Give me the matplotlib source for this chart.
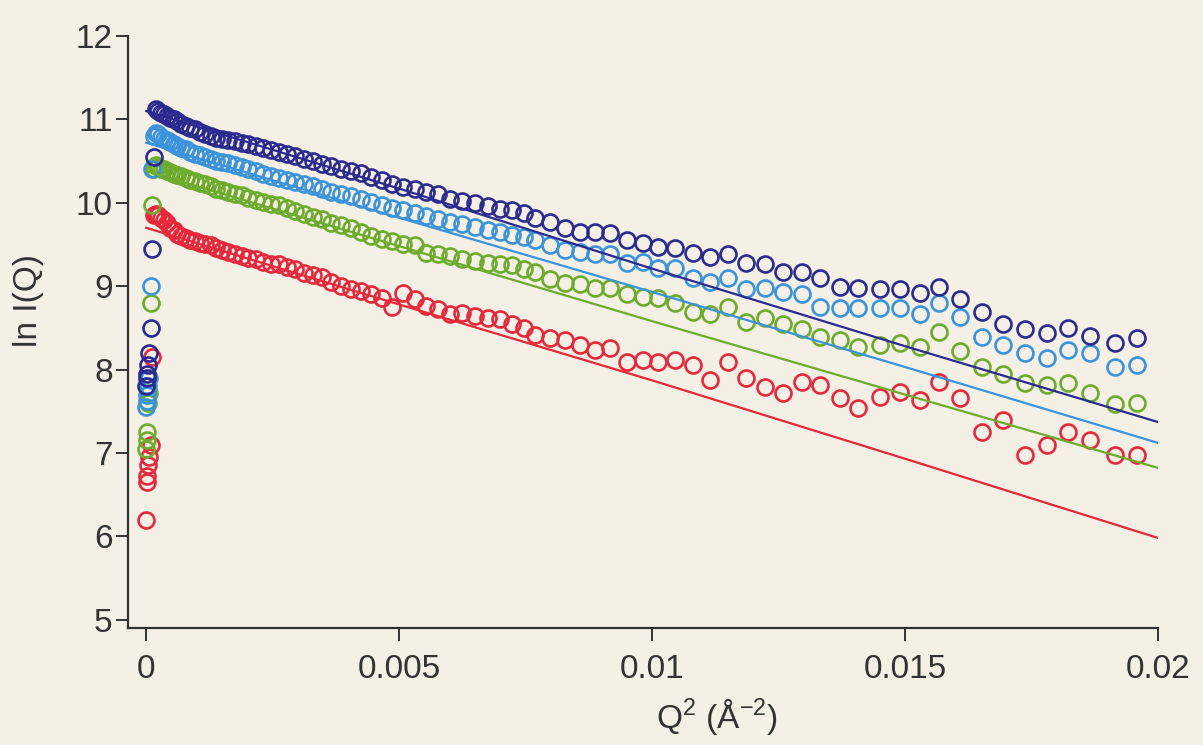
import numpy as np
import matplotlib
matplotlib.use("Agg")
import matplotlib.pyplot as plt

# ── Data ─────────────────────────────────────────────────────────────────────
q2 = [0.0000024, 0.0000096, 0.0000216, 0.0000384, 0.0000601, 0.0000865,
      0.0001177, 0.0001538,
      0.0001946, 0.0002403, 0.0002907, 0.0003460, 0.0004060, 0.0004709,
      0.0005406, 0.0006150, 0.0006943, 0.0007784, 0.0008673, 0.0009610,
      0.0010595, 0.0011628, 0.0012709, 0.0013838, 0.0015016, 0.0016241,
      0.0017514, 0.0018836, 0.0020205, 0.0021623, 0.0023088, 0.0024602,
      0.0026163, 0.0027773, 0.0029431, 0.0031136, 0.0032890, 0.0034692,
      0.0036542, 0.0038440, 0.0040386, 0.0042380, 0.0044422, 0.0046512,
      0.0048651, 0.0050837, 0.0053071, 0.0055354, 0.0057684, 0.0060063,
      0.0062489, 0.0064964, 0.0067486,
      0.006996, 0.007233, 0.007470,
      0.007688, 0.007984, 0.008281, 0.008577, 0.008874, 0.009170, 0.009506,
      0.009822, 0.010119, 0.010455, 0.010810, 0.011146, 0.011502, 0.011858,
      0.012233, 0.012589, 0.012964, 0.013320, 0.013715, 0.014071, 0.014506,
      0.014901, 0.015296, 0.015672, 0.016087, 0.016522, 0.016937, 0.017372,
      0.017806, 0.018221, 0.018656, 0.019150, 0.019585]

ln_navy = [7.8, 7.9, 7.95, 8.05, 8.2, 8.5, 9.45, 10.55,
           11.12, 11.1, 11.08, 11.07, 11.04, 11.02, 11.0, 10.98, 10.95, 10.92,
           10.9, 10.88, 10.85, 10.83, 10.8, 10.78, 10.77, 10.75, 10.74, 10.72,
           10.7, 10.68, 10.66, 10.63, 10.61, 10.59, 10.56, 10.53, 10.5, 10.47,
           10.44, 10.41, 10.38, 10.36, 10.31, 10.27, 10.23, 10.19, 10.16, 10.13,
           10.1, 10.05, 10.02, 10.0, 9.96,
           9.92, 9.91, 9.88,
           9.82, 9.77, 9.70, 9.65, 9.65, 9.64, 9.55, 9.52, 9.47, 9.46, 9.40,
           9.35, 9.38, 9.28, 9.26, 9.17, 9.17, 9.10, 8.99, 8.98, 8.96, 8.97,
           8.92, 8.99, 8.84, 8.69, 8.54, 8.48, 8.44, 8.5, 8.4, 8.32, 8.38]

ln_sky = [7.55, 7.62, 7.7, 7.8, 7.9, 9.0, 10.4, 10.8,
          10.84, 10.82, 10.79, 10.77, 10.75, 10.73, 10.71, 10.68, 10.66, 10.64,
          10.61, 10.59, 10.57, 10.55, 10.52, 10.5, 10.49, 10.48, 10.45, 10.43,
          10.4, 10.38, 10.35, 10.32, 10.3, 10.27, 10.25, 10.23, 10.2, 10.16,
          10.13, 10.11, 10.08, 10.05, 10.01, 9.97, 9.94, 9.91, 9.88, 9.84,
          9.8, 9.77, 9.74, 9.71, 9.67,
          9.65, 9.61, 9.59,
          9.55, 9.49, 9.43, 9.41, 9.38, 9.38, 9.28, 9.29, 9.22, 9.22, 9.10,
          9.05, 9.10, 8.97, 8.98, 8.93, 8.9, 8.75, 8.74, 8.74, 8.74, 8.74,
          8.66, 8.8, 8.63, 8.39, 8.3, 8.2, 8.14, 8.24, 8.2, 8.03, 8.06]

ln_green = [7.05, 7.15, 7.25, 7.6, 7.72, 8.8, 9.97, 10.4,
            10.45, 10.43, 10.41, 10.4, 10.38, 10.37, 10.35, 10.33, 10.32, 10.3,
            10.27, 10.26, 10.24, 10.22, 10.2, 10.17, 10.15, 10.13, 10.1, 10.09,
            10.06, 10.03, 10.01, 9.99, 9.97, 9.94, 9.9, 9.86, 9.83, 9.8,
            9.76, 9.73, 9.7, 9.65, 9.6, 9.57, 9.54, 9.51, 9.49, 9.4,
            9.38, 9.36, 9.33, 9.3, 9.28,
            9.27, 9.25, 9.2,
            9.17, 9.08, 9.04, 9.02, 8.98, 8.98, 8.9, 8.87, 8.86, 8.8, 8.69,
            8.66, 8.75, 8.57, 8.62, 8.54, 8.48, 8.39, 8.36, 8.27, 8.3, 8.32,
            8.27, 8.45, 8.22, 8.03, 7.95, 7.84, 7.82, 7.84, 7.72, 7.59, 7.6]

ln_red = [6.2, 6.65, 6.72, 6.85, 6.95, 7.1, 8.15, 9.85,
          9.87, 9.85, 9.82, 9.79, 9.76, 9.7, 9.67, 9.63, 9.6, 9.58,
          9.55, 9.54, 9.52, 9.5, 9.49, 9.46, 9.43, 9.41, 9.38, 9.36,
          9.34, 9.32, 9.29, 9.27, 9.26, 9.23, 9.2, 9.16, 9.13, 9.11,
          9.05, 9.0, 8.97, 8.94, 8.91, 8.86, 8.75, 8.92, 8.85, 8.76,
          8.73, 8.67, 8.68, 8.64, 8.62,
          8.61, 8.55, 8.5,
          8.42, 8.38, 8.36, 8.3, 8.24, 8.26, 8.09, 8.12, 8.09, 8.12, 8.06,
          7.88, 8.09, 7.90, 7.79, 7.72, 7.85, 7.82, 7.66, 7.54, 7.67, 7.73,
          7.64, 7.85, 7.66, 7.25, 7.4, 6.98, 7.1, 7.25, 7.15, 6.97, 6.97]

# Guinier fit lines
fit_q2 = [0.0, 0.005, 0.01, 0.015, 0.02]
fit_navy = [11.1, 10.17, 9.21, 8.28, 7.37]
fit_sky = [10.72, 9.82, 8.93, 8.03, 7.12]
fit_green = [10.38, 9.48, 8.58, 7.70, 6.82]
fit_red = [9.70, 8.78, 7.87, 6.93, 5.98]

xticks = [0, 0.005, 0.01, 0.015, 0.02]
xtick_labels = ["0", "0.005", "0.01", "0.015", "0.02"]
yticks = [5, 6, 7, 8, 9, 10, 11, 12]

# ── Style ────────────────────────────────────────────────────────────────────
BG = "#f4f0e5"
INK = "#333333"
C_NAVY = "#2b2a8f"
C_SKY = "#3a93db"
C_GREEN = "#6cab2c"
C_RED = "#e5283b"

plt.rcParams["font.family"] = ["Liberation Sans", "DejaVu Sans"]
plt.rcParams["mathtext.fontset"] = "custom"
plt.rcParams["mathtext.rm"] = "Liberation Sans"
plt.rcParams["mathtext.default"] = "regular"

fig = plt.figure(figsize=(12.03, 7.45), dpi=100, facecolor=BG)
ax = fig.add_axes([128 / 1203, 1 - 628 / 745, 1030 / 1203, 592 / 745])
ax.set_facecolor(BG)

# data circles
series = [(ln_red, C_RED), (ln_green, C_GREEN), (ln_sky, C_SKY), (ln_navy, C_NAVY)]
for ys, c in series:
    ax.plot(q2, ys, linestyle="none", marker="o", markersize=11.5,
            markerfacecolor="none", markeredgecolor=c, markeredgewidth=1.9)

# fits
for ys, c in [(fit_red, C_RED), (fit_green, C_GREEN), (fit_sky, C_SKY), (fit_navy, C_NAVY)]:
    ax.plot(fit_q2, ys, color=c, linewidth=1.6)

ax.set_xlim(-0.00036, 0.02)
ax.set_ylim(4.9, 12)
ax.set_xticks(xticks, labels=xtick_labels)
ax.set_yticks(yticks)

for side in ["top", "right"]:
    ax.spines[side].set_visible(False)
for side in ["left", "bottom"]:
    ax.spines[side].set_color(INK)
    ax.spines[side].set_linewidth(1.6)

ax.tick_params(axis="both", direction="out", length=9, width=1.4,
               color=INK, labelcolor=INK, labelsize=24)
ax.tick_params(axis="x", pad=10)
ax.tick_params(axis="y", pad=2)

ax.set_xlabel("Q$^2$ (Å$^{-2}$)", fontsize=24, color=INK)
ax.xaxis.set_label_coords(0.572, -0.115)
ax.set_ylabel("ln I(Q)", fontsize=24, color=INK)
ax.yaxis.set_label_coords(-0.082, 0.554)

fig.savefig("out.png", dpi=100, facecolor=BG)
